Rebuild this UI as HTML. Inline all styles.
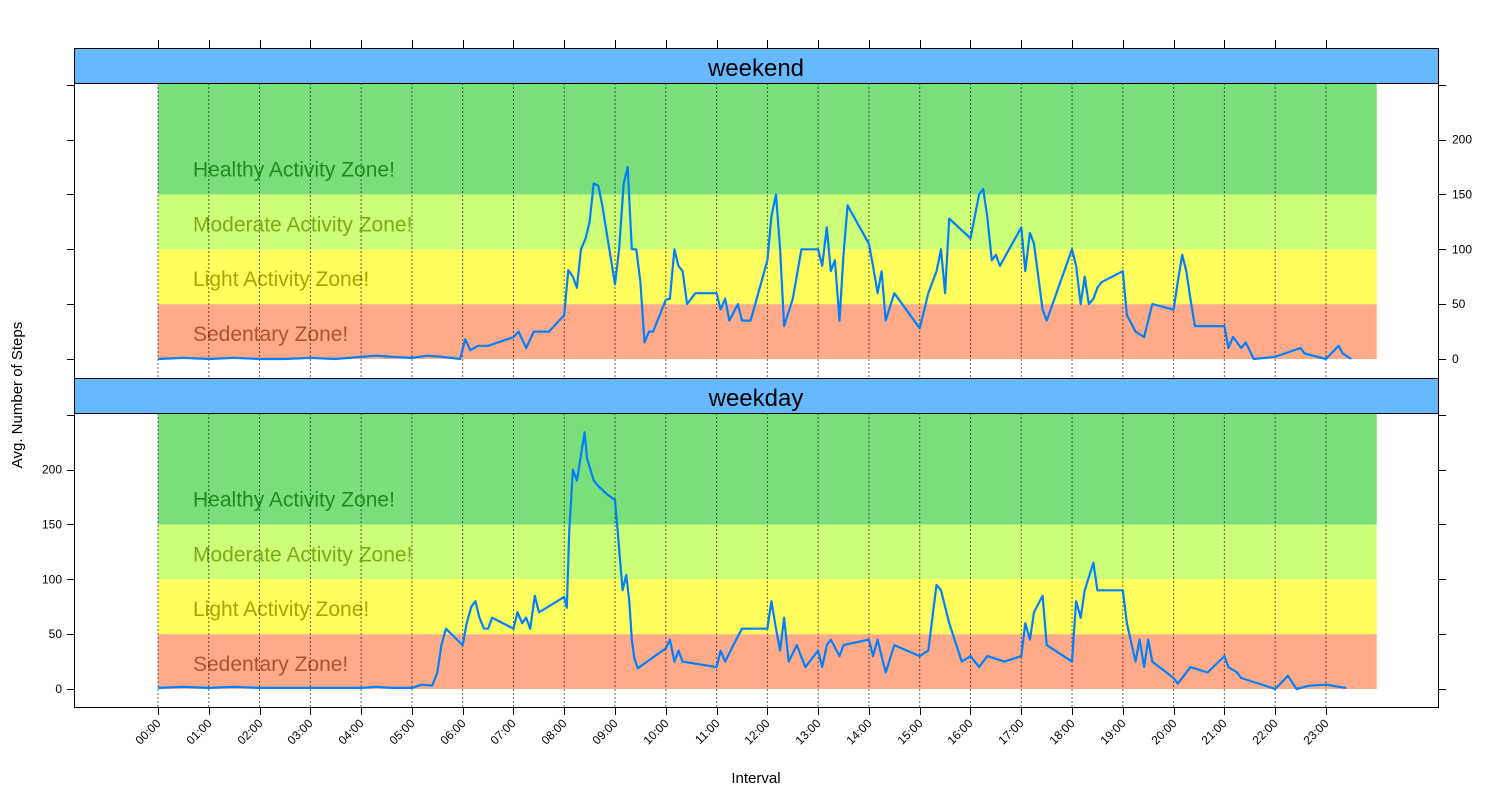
<!DOCTYPE html>
<html><head><meta charset="utf-8"><style>
body{margin:0;background:#fff;width:1500px;height:800px;overflow:hidden}
svg{display:block;font-family:"Liberation Sans",Arial,sans-serif}
</style></head><body>
<svg id="chart" width="1500" height="800"></svg>
<script>
const hourLabels=["00:00","01:00","02:00","03:00","04:00","05:00","06:00","07:00","08:00","09:00","10:00","11:00","12:00","13:00","14:00","15:00","16:00","17:00","18:00","19:00","20:00","21:00","22:00","23:00"];
const yTicks=[0,50,100,150,200];
const zoneBounds=[0,50,100,150];
const zoneNames=["Sedentary Zone!","Light Activity Zone!","Moderate Activity Zone!","Healthy Activity Zone!"];
const zoneFill=["#FFAA88","#FFFF5E","#CCFF77","#7ADF7A"];
const zoneText=["#B0522E","#A8A400","#80A818","#228B22"];
const weekendTimes=[0,0.5,1,1.5,2,2.5,3,3.5,4,4.3,4.6,5,5.3,5.6,5.95,6.05,6.15,6.3,6.5,7,7.1,7.25,7.4,7.7,8,8.08,8.17,8.25,8.33,8.42,8.5,8.58,8.67,8.75,9,9.08,9.17,9.25,9.33,9.42,9.5,9.58,9.67,9.75,10,10.08,10.17,10.25,10.33,10.42,10.58,11,11.08,11.17,11.25,11.42,11.5,11.67,12,12.08,12.17,12.25,12.33,12.5,12.67,13,13.08,13.17,13.25,13.33,13.42,13.5,13.58,14,14.08,14.17,14.25,14.33,14.5,15,15.17,15.33,15.42,15.5,15.58,16,16.17,16.25,16.33,16.42,16.5,16.58,17,17.08,17.17,17.25,17.42,17.5,18,18.08,18.17,18.25,18.33,18.42,18.5,18.58,19,19.08,19.25,19.42,19.58,20,20.08,20.17,20.25,20.33,20.42,21,21.08,21.17,21.25,21.33,21.42,21.58,22,22.5,22.58,23,23.25,23.33,23.5];
const weekendSteps=[0,1,0,1,0,0,1,0,2,3,2,1,3,2,0,18,8,12,12,20,25,10,25,25,40,81,75,65,100,110,125,160,158,140,68,100,160,175,100,100,70,15,25,25,54,55,100,85,80,50,60,60,45,55,35,50,35,35,90,130,150,100,30,55,100,100,85,120,80,90,35,95,140,105,85,60,80,35,60,28,60,80,100,60,128,110,150,155,130,90,95,85,120,80,115,105,45,35,100,85,50,75,50,55,65,70,80,40,25,20,50,45,70,95,80,55,30,30,10,20,15,10,15,0,2,10,5,0,12,5,0];
const weekdayTimes=[0,0.5,1,1.5,2,2.5,3,3.5,4,4.3,4.6,5,5.2,5.4,5.5,5.58,5.67,6,6.08,6.17,6.25,6.33,6.42,6.5,6.58,7,7.08,7.17,7.25,7.33,7.42,7.5,7.58,8,8.05,8.1,8.17,8.25,8.3,8.4,8.45,8.58,8.67,8.83,9,9.05,9.1,9.15,9.22,9.28,9.33,9.38,9.45,10,10.08,10.17,10.25,10.33,11,11.08,11.17,11.33,11.5,12,12.08,12.17,12.25,12.33,12.42,12.58,12.75,13,13.08,13.17,13.25,13.42,13.5,14,14.08,14.17,14.25,14.33,14.5,15,15.17,15.33,15.42,15.58,15.83,16,16.17,16.33,16.67,17,17.08,17.17,17.25,17.42,17.5,18,18.08,18.17,18.25,18.42,18.5,19,19.08,19.25,19.33,19.42,19.5,19.58,20,20.08,20.17,20.33,20.67,21,21.08,21.25,21.33,21.67,22,22.25,22.42,22.67,23,23.25,23.4];
const weekdaySteps=[1,2,1,2,1,1,1,1,1,2,1,1,4,3,15,40,55,40,60,75,80,65,55,55,65,55,70,60,65,55,85,70,72,84,74,145,200,190,205,234,210,190,185,178,172,145,117,90,104,81,45,28,19,37,45,25,35,25,20,35,25,40,55,55,80,55,35,65,25,40,20,35,20,40,45,30,40,45,30,45,30,15,40,30,35,95,90,60,25,30,20,30,25,30,60,45,70,85,40,25,80,65,90,115,90,90,60,25,45,20,45,25,10,5,10,20,15,30,20,15,10,5,0,12,0,3,4,2,1];

const NS="http://www.w3.org/2000/svg";
const svg=document.getElementById('chart');
function mk(tag,attrs,parent){const e=document.createElementNS(NS,tag);for(const k in attrs)e.setAttribute(k,attrs[k]);(parent||svg).appendChild(e);return e;}
const L=74,R=1438;
const xScale=h=>158+h*50.78;
const unit=1.097;
const panels=[{name:"weekend",stripTop:48,top:83,bottom:378,zero:359,times:weekendTimes,steps:weekendSteps,right:true},
              {name:"weekday",stripTop:378,top:413,bottom:707,zero:689,times:weekdayTimes,steps:weekdaySteps,right:false}];
panels.forEach(p=>{
  const y=v=>p.zero-v*unit;
  const g=mk('g',{});
  
  
  zoneBounds.forEach((b,i)=>{
    const top=i===3?p.top:y(zoneBounds[i+1]);
    const r=mk('rect',{x:xScale(0),y:top,width:xScale(24)-xScale(0),height:y(b)-top,fill:zoneFill[i]},g);
    
    
    const t=mk('text',{x:193,y:y(b)-18,fill:zoneText[i],'font-size':'21'},g);
    t.textContent=zoneNames[i];
    
    
  });
  hourLabels.forEach((lab,i)=>{
    const gl=mk('line',{x1:xScale(i),x2:xScale(i),y1:p.top,y2:p.bottom,stroke:'#000','stroke-opacity':'0.6','stroke-dasharray':'2,2','stroke-width':'1'},g);
    
    
  });
  const pts=p.times.map((t,i)=>xScale(t).toFixed(1)+','+y(p.steps[i]).toFixed(1)).join(' ');
  const line=mk('polyline',{points:pts,fill:'none',stroke:'#0080FF','stroke-width':'2.2','stroke-linejoin':'round'},g);
  
  
  const strip=mk('rect',{x:L+0.5,y:p.stripTop+0.5,width:R-L,height:p.top-p.stripTop,fill:'#66B8FF',stroke:'#000'},g);
  
  
  const st=mk('text',{x:(L+R)/2,y:p.top-7,'text-anchor':'middle','font-size':'24',fill:'#000'},g);
  st.textContent=p.name;
  
  
  const fr=mk('rect',{x:L+0.5,y:p.top+0.5,width:R-L,height:p.bottom-p.top,fill:'none',stroke:'#000'},g);
  
  
  [0,50,100,150,200,250].forEach(v=>{
    const yy=Math.round(y(v))+0.5;
    mk('line',{x1:L-7,x2:L,y1:yy,y2:yy,stroke:'#000'},g);
    mk('line',{x1:R,x2:R+8,y1:yy,y2:yy,stroke:'#000'},g);
  });
  yTicks.forEach(v=>{
    const yy=y(v)+4;
    const t=p.right?mk('text',{x:R+14,y:yy,'font-size':'12'},g):mk('text',{x:L-12,y:yy,'font-size':'12','text-anchor':'end'},g);
    t.textContent=v;
    
    
  });
});
hourLabels.forEach((lab,i)=>{
  const x=Math.round(xScale(i))+0.5;
  mk('line',{x1:x,x2:x,y1:40,y2:48,stroke:'#000'});
  mk('line',{x1:x,x2:x,y1:707,y2:715,stroke:'#000'});
  const t=mk('text',{x:x+3,y:724,'font-size':'12','text-anchor':'end',transform:`rotate(-45 ${x+3} 724)`});
  t.textContent=lab;
  
  
});
const yt=mk('text',{x:22,y:395,'font-size':'15','text-anchor':'middle',transform:'rotate(-90 22 395)'});
yt.textContent='Avg. Number of Steps';


const xt=mk('text',{x:756,y:783,'font-size':'15','text-anchor':'middle'});
xt.textContent='Interval';


</script>
</body></html>
